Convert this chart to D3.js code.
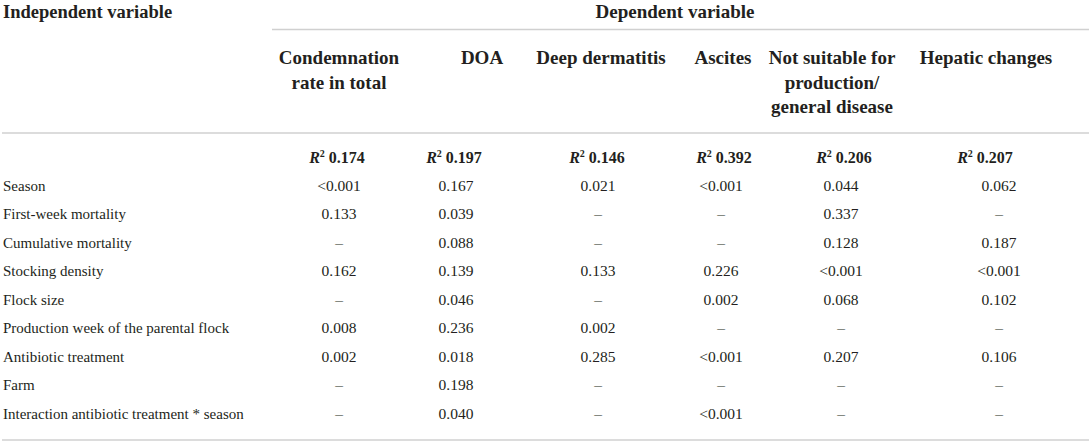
<!DOCTYPE html>
<html lang="en">
<head>
    <meta charset="UTF-8">
    <title>Regression table</title>
    <script src="https://d3js.org/d3.v7.min.js"></script>
    <style>
        body { margin: 0; background: #fff; }
        text { font-family: "Liberation Serif", "Times New Roman", serif; fill: #231f20; }
    </style>
</head>
<body>
<svg width="1089" height="443"></svg>

<script>
    const headers = [
        ["Condemnation", "rate in total"],
        ["DOA"],
        ["Deep dermatitis"],
        ["Ascites"],
        ["Not suitable for", "production/", "general disease"],
        ["Hepatic changes"]
    ];
    const r2Values = ["0.174", "0.197", "0.146", "0.392", "0.206", "0.207"];
    const rowLabels = [
        "Season",
        "First-week mortality",
        "Cumulative mortality",
        "Stocking density",
        "Flock size",
        "Production week of the parental flock",
        "Antibiotic treatment",
        "Farm",
        "Interaction antibiotic treatment * season"
    ];
    const pValues = [
        ["<0.001", "0.167", "0.021", "<0.001", "0.044", "0.062"],
        ["0.133", "0.039", "–", "–", "0.337", "–"],
        ["–", "0.088", "–", "–", "0.128", "0.187"],
        ["0.162", "0.139", "0.133", "0.226", "<0.001", "<0.001"],
        ["–", "0.046", "–", "0.002", "0.068", "0.102"],
        ["0.008", "0.236", "0.002", "–", "–", "–"],
        ["0.002", "0.018", "0.285", "<0.001", "0.207", "0.106"],
        ["–", "0.198", "–", "–", "–", "–"],
        ["–", "0.040", "–", "<0.001", "–", "–"]
    ];

    // column centres: header, R² row, value rows
    const headX = [339, 482, 601, 723, 832, 986];
    const r2X = [337, 454, 597, 724, 844, 985];
    const valX = [339, 456, 598, 721, 841, 999];

    const svg = d3.select("svg");

    const y = d3.scalePoint()
        .domain(rowLabels)
        .range([190.5, 418.5]);

    const rule = "#d0d0d0";
    svg.append("line").attr("x1", 272).attr("x2", 1089).attr("y1", 29.5).attr("y2", 29.5)
        .attr("stroke", rule).attr("stroke-width", 1.5);
    svg.append("line").attr("x1", 2).attr("x2", 1089).attr("y1", 133).attr("y2", 133)
        .attr("stroke", rule).attr("stroke-width", 1.5);
    svg.append("line").attr("x1", 2).attr("x2", 1089).attr("y1", 440).attr("y2", 440)
        .attr("stroke", rule).attr("stroke-width", 1.5);

    svg.append("text").attr("x", 3).attr("y", 18)
        .style("font-size", "18.5px").style("font-weight", "bold")
        .text("Independent variable");
    svg.append("text").attr("x", 675).attr("y", 18).attr("text-anchor", "middle")
        .style("font-size", "19px").style("font-weight", "bold")
        .text("Dependent variable");

    const head = svg.append("g").selectAll("text")
        .data(headers)
        .join("text")
        .attr("text-anchor", "middle")
        .style("font-size", "19px").style("font-weight", "bold");
    head.selectAll("tspan")
        .data((d, i) => d.map(s => ({s, i})))
        .join("tspan")
        .attr("x", d => headX[d.i])
        .attr("y", (d, j) => 64 + j * 24.5)
        .text(d => d.s);

    const r2 = svg.append("g").selectAll("text")
        .data(r2Values)
        .join("text")
        .attr("x", (d, i) => r2X[i])
        .attr("y", 163)
        .attr("text-anchor", "middle")
        .style("font-size", "16px").style("font-weight", "bold");
    r2.append("tspan").style("font-style", "italic").text("R");
    r2.append("tspan").attr("dy", -6).style("font-size", "10px").text("2");
    r2.append("tspan").attr("dy", 6).text(d => "\u00a0" + d);

    svg.append("g").selectAll("text")
        .data(rowLabels)
        .join("text")
        .attr("x", 3)
        .attr("y", d => y(d))
        .style("font-size", "15px")
        .text(d => d);

    svg.append("g").selectAll("g")
        .data(pValues)
        .join("g")
        .attr("transform", (d, i) => `translate(0,${y(rowLabels[i])})`)
        .selectAll("text")
        .data(d => d)
        .join("text")
        .attr("x", (d, j) => valX[j])
        .attr("text-anchor", "middle")
        .style("font-size", "15.5px")
        .text(d => d);
</script>
</body>
</html>
